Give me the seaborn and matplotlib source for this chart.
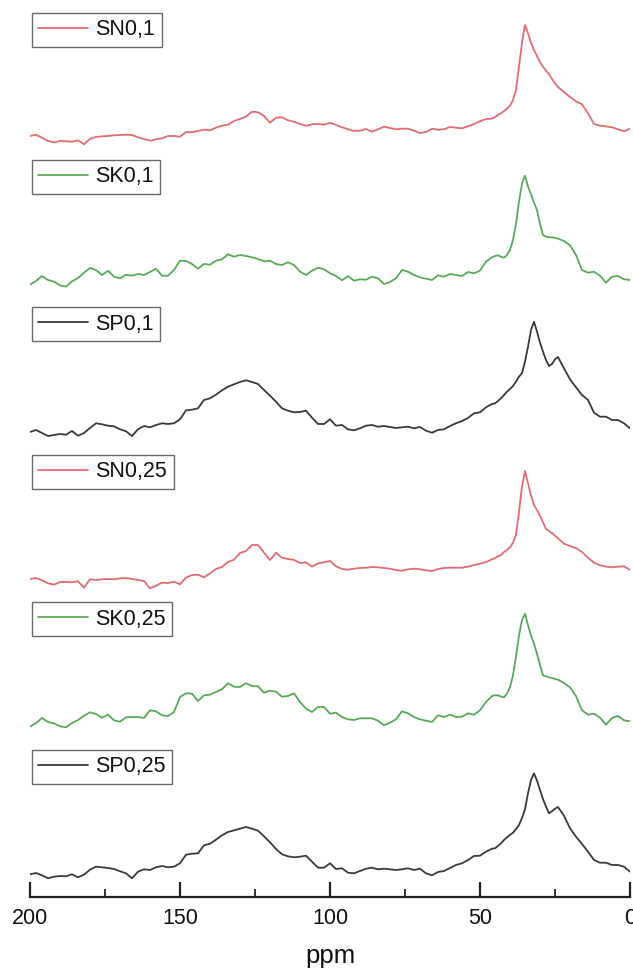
import numpy as np
import pandas as pd
import matplotlib
matplotlib.use("Agg")
import matplotlib.pyplot as plt
from matplotlib.ticker import FixedLocator
import seaborn as sns

# ---------------- data ----------------
ppm = list(range(200, 45, -2)) + list(range(45, 24, -1)) + list(range(24, -1, -2))

labels = ["SN0,1", "SK0,1", "SP0,1", "SN0,25", "SK0,25", "SP0,25"]

sn01 = [24.0, 25.3, 22.3, 19.0, 17.7, 19.0, 18.7, 18.3, 19.7, 15.7,
        21.3, 23.0, 23.7, 24.0, 24.7, 25.0, 25.3, 25.0, 22.7, 21.0,
        19.3, 20.7, 21.7, 24.0, 24.0, 23.3, 28.0, 27.7, 29.0, 30.3,
        29.7, 32.3, 34.3, 35.3, 39.0, 41.0, 43.3, 48.3, 47.7, 44.0,
        37.3, 42.3, 42.7, 39.7, 38.3, 36.0, 34.3, 35.7, 36.0, 35.3,
        37.3, 35.0, 32.7, 30.7, 29.0, 29.3, 31.0, 28.3, 30.7, 33.3,
        32.0, 30.7, 31.3, 31.3, 29.3, 27.0, 28.0, 31.3, 30.3, 30.7,
        33.0, 32.3, 31.7, 33.7, 36.0, 38.7, 41.0, 41.3,
        43.0, 45.0, 46.7, 49.0, 51.3, 54.3, 60.0, 70.0, 93.3, 117.3, 135.0,
        126.7, 117.3, 110.0, 104.0, 97.7, 93.3, 89.3, 86.0, 81.0, 76.7,
        73.0, 68.0, 63.0, 58.7, 55.7, 46.7, 36.0, 34.3, 33.7, 32.7, 30.7, 28.7, 31.3]

sk01 = [22.7, 26.4, 31.4, 27.4, 25.7, 22.1, 20.7, 26.1, 29.4, 34.7,
        39.4, 37.4, 32.4, 36.7, 30.7, 29.1, 32.7, 31.7, 33.4, 32.4,
        35.4, 38.7, 31.7, 31.7, 37.4, 46.7, 46.4, 43.4, 38.7, 43.4,
        42.7, 46.7, 48.1, 53.1, 50.7, 52.4, 51.4, 50.1, 48.4, 46.1,
        46.7, 43.4, 42.4, 45.1, 42.4, 35.7, 32.4, 36.7, 39.7, 38.1,
        34.1, 31.4, 27.1, 31.4, 26.7, 28.1, 27.7, 30.7, 29.1, 23.4,
        25.4, 29.1, 37.4, 35.7, 32.4, 30.1, 28.7, 27.4, 32.1, 30.7,
        33.4, 32.4, 31.4, 35.4, 34.1, 36.7, 45.7, 50.1,
        51.4, 52.1, 50.7, 49.7, 52.4, 57.4, 67.4, 83.7, 105.7, 124.1, 131.7,
        120.7, 113.1, 104.7, 97.4, 83.4, 72.4, 70.7, 70.1, 70.1, 69.4,
        68.7, 66.4, 62.1, 52.4, 37.4, 34.7, 35.7, 31.7, 24.7, 30.7, 31.4, 28.1, 27.4]

sp01 = [22.8, 24.8, 21.8, 18.8, 19.8, 20.8, 20.1, 23.8, 19.1, 21.8,
        26.8, 31.5, 30.5, 29.1, 28.5, 25.5, 23.5, 18.8, 25.5, 28.8,
        27.5, 29.8, 31.5, 30.8, 31.5, 35.5, 44.5, 45.1, 46.5, 54.8,
        56.5, 60.1, 64.5, 68.1, 70.5, 72.8, 74.5, 72.8, 70.8, 64.8,
        59.1, 53.1, 46.5, 44.1, 42.5, 42.8, 44.1, 37.1, 30.8, 30.8,
        35.5, 29.1, 29.8, 25.5, 24.5, 26.5, 29.1, 29.8, 28.1, 28.8,
        27.8, 26.8, 27.5, 28.1, 26.5, 27.8, 24.1, 22.1, 24.8, 25.5,
        28.8, 31.5, 33.8, 36.8, 41.5, 42.5, 47.5, 50.8,
        51.5, 53.8, 56.5, 59.8, 63.1, 65.8, 68.8, 73.1, 78.1, 81.8, 93.1,
        108.1, 124.8, 133.1, 123.1, 112.1, 103.1, 94.8, 88.8, 90.8, 95.5,
        97.8, 86.5, 75.5, 67.5, 59.8, 54.8, 42.1, 38.1, 38.1, 34.8, 34.8, 31.5, 26.5]

sn025 = [23.2, 24.2, 21.9, 18.9, 17.5, 20.2, 20.2, 19.9, 20.9, 14.5,
         22.9, 22.2, 22.9, 23.2, 22.9, 23.9, 24.2, 23.2, 22.2, 21.2,
         13.9, 16.5, 19.5, 19.2, 20.5, 17.9, 24.5, 27.2, 27.5, 24.9,
         28.9, 33.2, 35.2, 40.2, 42.5, 49.2, 51.2, 57.2, 57.2, 49.5,
         42.2, 49.5, 44.5, 43.2, 42.2, 39.2, 39.9, 35.5, 38.8, 39.9,
         41.2, 35.9, 33.2, 32.5, 33.5, 34.2, 34.5, 35.2, 34.9, 34.2,
         33.5, 32.2, 31.5, 32.9, 33.5, 32.9, 31.9, 31.2, 33.2, 34.2,
         34.5, 34.5, 34.5, 35.5, 37.2, 38.5, 40.2, 42.9,
         44.2, 45.9, 47.2, 50.2, 52.2, 54.9, 59.5, 67.2, 90.5, 115.5, 131.2,
         118.9, 106.5, 97.2, 92.2, 86.5, 79.9, 73.2, 71.2, 68.9, 66.5,
         63.9, 58.5, 56.2, 54.2, 50.2, 44.5, 39.5, 36.9, 35.5, 34.9, 35.5, 35.9, 32.2]

sk025 = [22.9, 26.6, 31.6, 27.6, 26.3, 23.3, 22.3, 26.6, 29.6, 33.9,
         37.3, 35.6, 31.9, 34.9, 29.3, 27.9, 32.3, 32.6, 32.6, 31.6,
         39.3, 38.3, 34.3, 33.6, 37.6, 52.6, 56.3, 55.9, 48.6, 54.3,
         54.9, 57.6, 60.3, 66.3, 62.9, 62.6, 66.3, 63.6, 63.3, 56.9,
         58.9, 57.9, 52.9, 53.6, 56.3, 47.6, 40.9, 37.6, 42.6, 42.6,
         35.9, 36.9, 32.6, 30.3, 29.6, 31.3, 31.3, 31.3, 28.9, 24.3,
         26.9, 30.3, 38.3, 36.3, 32.6, 30.3, 28.9, 27.6, 34.3, 32.6,
         34.9, 32.6, 32.9, 36.3, 34.9, 39.3, 47.6, 53.6,
         54.3, 54.3, 52.9, 52.3, 55.9, 62.6, 74.3, 92.6, 114.3, 129.3, 135.9,
         124.3, 114.3, 105.9, 95.9, 84.3, 74.3, 73.3, 72.3, 71.6, 70.6,
         69.9, 66.6, 62.3, 53.6, 39.3, 34.9, 35.9, 31.9, 24.9, 31.6, 33.6, 29.3, 28.3]

sp025 = [22.7, 24.0, 21.7, 18.7, 20.3, 21.0, 20.7, 22.7, 19.7, 22.3,
         27.3, 30.3, 29.7, 29.0, 28.0, 25.7, 23.7, 18.7, 25.3, 27.7,
         27.0, 29.7, 31.0, 29.7, 30.3, 33.7, 42.3, 43.3, 43.7, 51.7,
         53.3, 57.3, 61.7, 65.0, 66.7, 68.3, 70.0, 68.3, 66.3, 60.7,
         54.7, 48.0, 42.7, 40.7, 39.7, 40.3, 41.3, 35.3, 29.3, 29.3,
         33.7, 28.0, 28.7, 24.3, 23.7, 26.0, 28.3, 29.3, 27.7, 28.3,
         27.7, 27.0, 27.7, 28.7, 27.0, 28.3, 23.7, 21.7, 25.0, 26.0,
         29.0, 32.0, 33.7, 37.0, 41.0, 41.3, 45.3, 48.3,
         48.7, 51.0, 53.7, 57.0, 59.7, 62.0, 64.3, 68.0, 72.0, 79.0, 87.7,
         103.7, 117.0, 123.7, 116.3, 107.0, 98.0, 90.3, 83.7, 85.7, 88.3,
         90.0, 81.3, 68.7, 60.3, 53.0, 45.3, 37.0, 34.3, 34.3, 32.0, 32.0, 30.3, 25.3]

series = [sn01, sk01, sp01, sn025, sk025, sp025]
major_ticks = [200, 150, 100, 50, 0]
minor_ticks = [175, 125, 75, 25]

# ---------------- style ----------------
colors = ["#e36b74", "#5aa95a", "#3a3a3a", "#e36b74", "#5aa95a", "#3a3a3a"]

sns.set_theme(style="white")
plt.rcParams["font.family"] = ["Liberation Sans", "DejaVu Sans"]

W, H = 633, 977
fig = plt.figure(figsize=(W / 100, H / 100), dpi=100)

panel_h = 147.4
axis_px = 897
left_px, right_px = 30, 630

for k, (name, vals, col) in enumerate(zip(labels, series, colors)):
    bottom_px = axis_px - (5 - k) * panel_h
    ax = fig.add_axes([left_px / W, (H - bottom_px) / H,
                       (right_px - left_px) / W, panel_h / H])
    ax.patch.set_alpha(0)
    df = pd.DataFrame({"ppm": ppm, "intensity": vals})
    sns.lineplot(data=df, x="ppm", y="intensity", ax=ax, color=col,
                 linewidth=1.3, label=name)
    ax.set_xlim(200, 0)
    ax.set_ylim(0, panel_h)
    ax.set_yticks([])
    ax.set_ylabel("")
    for s in ["left", "right", "top"]:
        ax.spines[s].set_visible(False)
    leg = ax.legend(loc="upper left", bbox_to_anchor=(0.003, 1.0),
                    borderaxespad=0, frameon=True, fancybox=False,
                    edgecolor="#444444", fontsize=15.5, handlelength=2.3,
                    handletextpad=0.35, borderpad=0.3)
    leg.get_frame().set_linewidth(1.0)
    for t in leg.get_texts():
        t.set_color("#111111")
    if k < 5:
        ax.spines["bottom"].set_visible(False)
        ax.set_xticks([])
        ax.set_xlabel("")
    else:
        ax.spines["bottom"].set_visible(True)
        ax.spines["bottom"].set_color("#222222")
        ax.spines["bottom"].set_linewidth(1.6)
        ax.xaxis.set_major_locator(FixedLocator(major_ticks))
        ax.xaxis.set_minor_locator(FixedLocator(minor_ticks))
        ax.set_xticklabels([str(t) for t in major_ticks])
        ax.tick_params(axis="x", which="major", direction="in", length=11,
                       width=1.6, color="#222222", labelsize=15.5, pad=8,
                       bottom=True, labelcolor="#111111")
        ax.tick_params(axis="x", which="minor", direction="in", length=6,
                       width=1.3, color="#222222", bottom=True)
        ax.set_xlabel("ppm", fontsize=18.5, labelpad=11, color="#111111")

fig.savefig("out.png", dpi=100)
